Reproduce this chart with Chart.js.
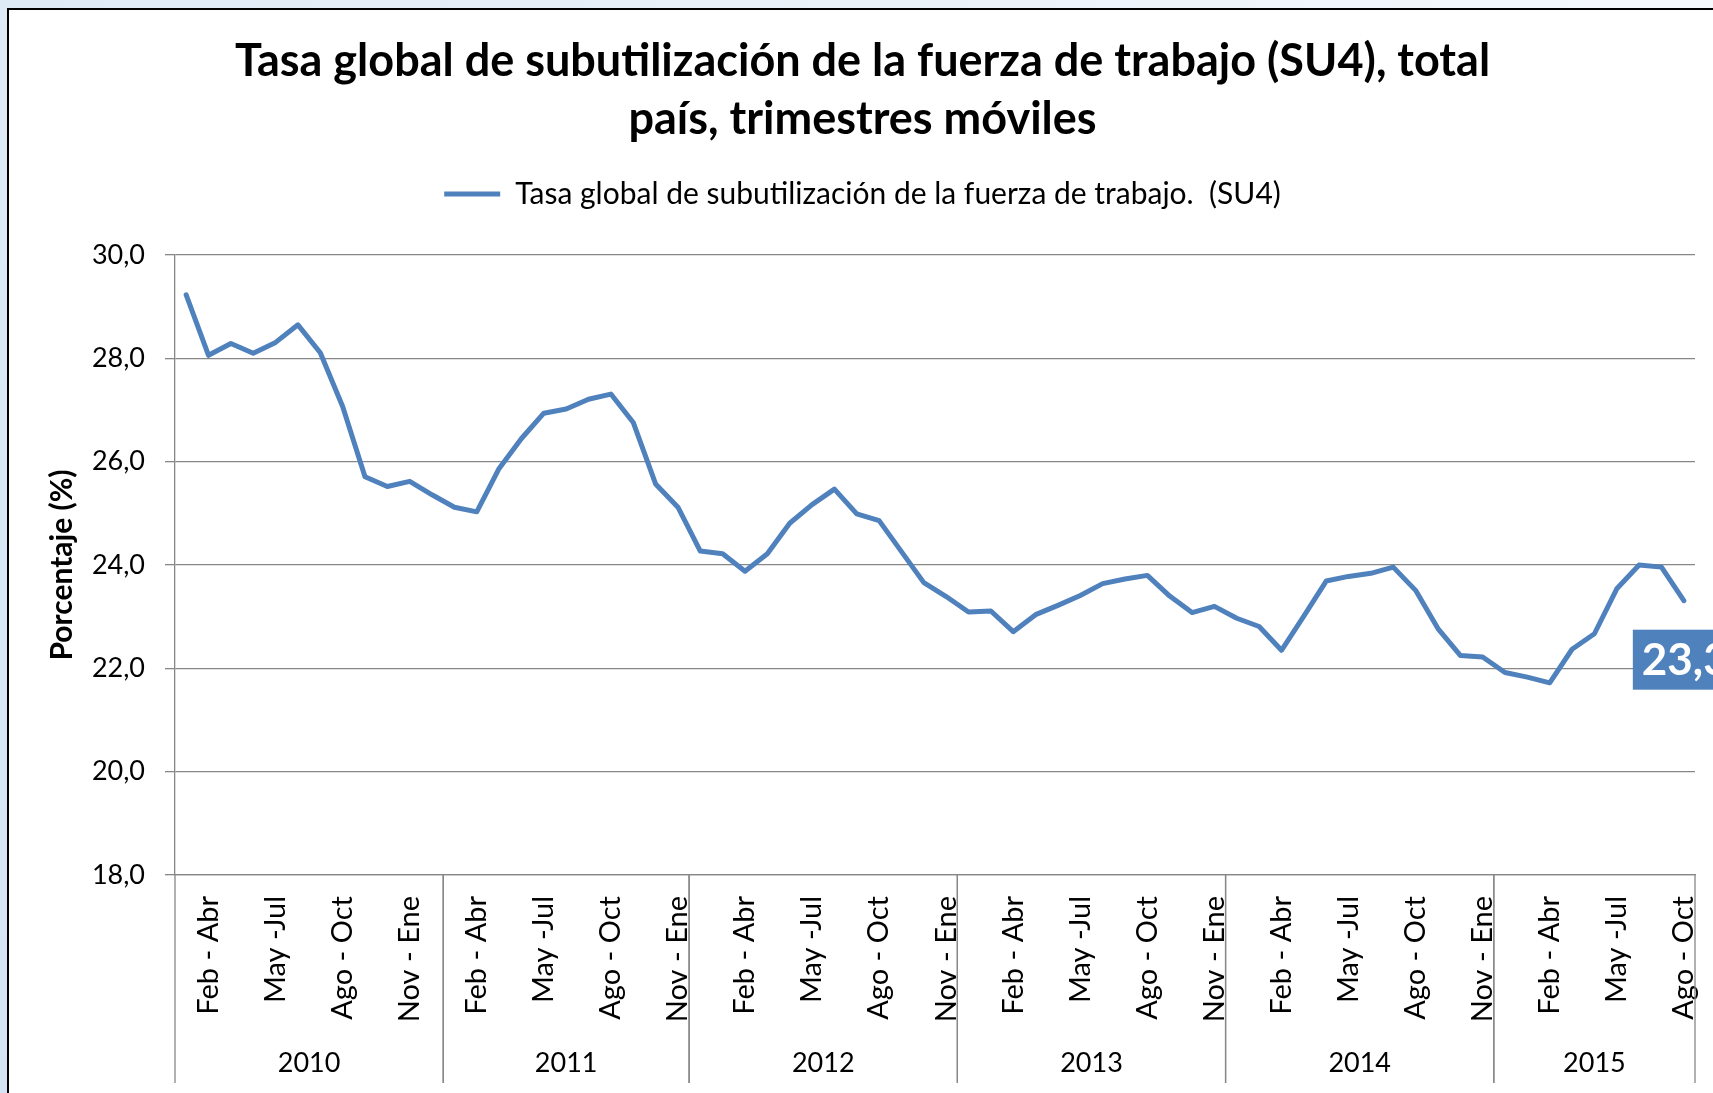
<!DOCTYPE html>
<html>
<head>
<meta charset="utf-8">
<script src="https://cdn.jsdelivr.net/npm/chart.js@4.4.1/dist/chart.umd.min.js"></script>
<style>
  html, body { margin: 0; padding: 0; background: #fff; }
  canvas { display: block; }
</style>
</head>
<body>
<canvas id="chart" width="1713" height="1093"></canvas>
<script>
// trimestres móviles, one entry per point
const labels = [
  // 2010
  'Ene - Mar', 'Feb - Abr', 'Mar - May', 'Abr - Jun', 'May -Jul', 'Jun - Ago',
  'Jul - Sep', 'Ago - Oct', 'Sep - Nov', 'Oct - Dic', 'Nov - Ene', 'Dic - Feb',
  // 2011
  'Ene - Mar', 'Feb - Abr', 'Mar - May', 'Abr - Jun', 'May -Jul', 'Jun - Ago',
  'Jul - Sep', 'Ago - Oct', 'Sep - Nov', 'Oct - Dic', 'Nov - Ene',
  // 2012
  'Dic - Feb', 'Ene - Mar', 'Feb - Abr', 'Mar - May', 'Abr - Jun', 'May -Jul',
  'Jun - Ago', 'Jul - Sep', 'Ago - Oct', 'Sep - Nov', 'Oct - Dic', 'Nov - Ene',
  // 2013
  'Dic - Feb', 'Ene - Mar', 'Feb - Abr', 'Mar - May', 'Abr - Jun', 'May -Jul',
  'Jun - Ago', 'Jul - Sep', 'Ago - Oct', 'Sep - Nov', 'Oct - Dic', 'Nov - Ene',
  // 2014
  'Dic - Feb', 'Ene - Mar', 'Feb - Abr', 'Mar - May', 'Abr - Jun', 'May -Jul',
  'Jun - Ago', 'Jul - Sep', 'Ago - Oct', 'Sep - Nov', 'Oct - Dic', 'Nov - Ene',
  // 2015
  'Dic - Feb', 'Ene - Mar', 'Feb - Abr', 'Mar - May', 'Abr - Jun', 'May -Jul',
  'Jun - Ago', 'Jul - Sep', 'Ago - Oct'
];

const su4 = [
  29.23, 28.06, 28.29, 28.10, 28.31, 28.65, 28.11, 27.07, 25.71, 25.52, 25.62, 25.36,
  25.12, 25.03, 25.87, 26.45, 26.94, 27.02, 27.21, 27.31, 26.76, 25.57, 25.12,
  24.27, 24.22, 23.88, 24.22, 24.81, 25.17, 25.47, 24.99, 24.86, 24.26, 23.66, 23.39,
  23.09, 23.11, 22.71, 23.04, 23.22, 23.41, 23.64, 23.73, 23.80, 23.40, 23.08, 23.20,
  22.97, 22.81, 22.35, 23.01, 23.69, 23.78, 23.84, 23.96, 23.51, 22.77, 22.25, 22.22,
  21.92, 21.83, 21.72, 22.37, 22.67, 23.54, 24.00, 23.96, 23.31
];

const years = ['2010', '2011', '2012', '2013', '2014', '2015'];
const yearSizes = [12, 11, 12, 12, 12, 9];

const yTicks = [18, 20, 22, 24, 26, 28, 30];

const blue = '#4F81BD';
const gridGray = '#878787';
const font = 'Lato';

const fmt = v => v.toFixed(1).replace('.', ',');

// pale blue sheet behind, white chart with black frame on left and top
const frame = {
  id: 'frame',
  beforeDraw(chart) {
    const ctx = chart.ctx;
    ctx.save();
    const g = ctx.createLinearGradient(chart.width, 0, 0, chart.height);
    g.addColorStop(0, '#f6fafd');
    g.addColorStop(1, '#d4e4f4');
    ctx.fillStyle = g;
    ctx.fillRect(0, 0, chart.width, chart.height);
    ctx.fillStyle = '#fff';
    ctx.fillRect(8, 9, chart.width, chart.height);
    ctx.strokeStyle = '#000';
    ctx.lineWidth = 2;
    ctx.strokeRect(8, 9, chart.width + 50, chart.height + 50);
    ctx.restore();
  }
};

// more room under the legend
const legendGap = {
  id: 'legendGap',
  beforeInit(chart) {
    const fit = chart.legend.fit;
    chart.legend.fit = function () {
      fit.call(this);
      this.height += 36;
    };
  }
};

// second level of the x axis: year groups with separators
const yearAxis = {
  id: 'yearAxis',
  afterDraw(chart) {
    const ctx = chart.ctx;
    const x = chart.scales.x;
    const area = chart.chartArea;
    const half = (x.getPixelForValue(1) - x.getPixelForValue(0)) / 2;
    const bottom = 1083;
    ctx.save();
    ctx.strokeStyle = gridGray;
    ctx.lineWidth = 1.3;
    ctx.fillStyle = '#000';
    ctx.font = '27px ' + font;
    ctx.textAlign = 'center';
    ctx.textBaseline = 'middle';
    let start = 0;
    years.forEach((y, i) => {
      const end = start + yearSizes[i] - 1;
      const x0 = x.getPixelForValue(start) - half;
      const x1 = x.getPixelForValue(end) + half;
      ctx.beginPath();
      ctx.moveTo(x0, area.bottom);
      ctx.lineTo(x0, bottom);
      ctx.moveTo(x1, area.bottom);
      ctx.lineTo(x1, bottom);
      ctx.stroke();
      ctx.fillText(y, (x0 + x1) / 2, 1063);
      start = end + 1;
    });
    ctx.restore();
  }
};

// label on the last value
const lastLabel = {
  id: 'lastLabel',
  afterDatasetsDraw(chart) {
    const meta = chart.getDatasetMeta(0);
    const i = su4.length - 1;
    const pt = meta.data[i];
    const ctx = chart.ctx;
    const h = 60;
    ctx.save();
    ctx.fillStyle = blue;
    ctx.fillRect(pt.x - 51, pt.y + 29, 120, h);
    ctx.fillStyle = '#fff';
    ctx.font = 'bold 44px ' + font;
    ctx.textAlign = 'left';
    ctx.textBaseline = 'middle';
    ctx.fillText(fmt(su4[i]), pt.x - 42, pt.y + 29 + h / 2 + 1);
    ctx.restore();
  }
};

new Chart(document.getElementById('chart'), {
  type: 'line',
  data: {
    labels: labels,
    datasets: [{
      label: 'Tasa global de subutilización de la fuerza de trabajo.  (SU4)',
      data: su4,
      borderColor: blue,
      backgroundColor: blue,
      borderWidth: 5,
      borderCapStyle: 'round',
      borderJoinStyle: 'round',
      pointRadius: 0,
      tension: 0,
      fill: false
    }]
  },
  options: {
    responsive: false,
    animation: false,
    layout: { padding: { left: 30, right: 18, top: 0, bottom: 0 } },
    plugins: {
      title: {
        display: true,
        text: ['Tasa global de subutilización de la fuerza de trabajo (SU4), total', 'país, trimestres móviles'],
        color: '#000',
        font: { family: font, size: 45, weight: 'bold', lineHeight: 1.29 },
        padding: { top: 32, bottom: 17 }
      },
      legend: {
        display: true,
        labels: {
          color: '#000',
          font: { family: font, size: 30 },
          boxWidth: 56,
          boxHeight: 5,
          padding: 14,
          generateLabels: chart => [{
            text: chart.data.datasets[0].label,
            fillStyle: blue,
            strokeStyle: blue,
            lineWidth: 0,
            datasetIndex: 0
          }]
        }
      },
      tooltip: { enabled: false }
    },
    scales: {
      x: {
        offset: true,
        grid: { display: false, drawTicks: false },
        border: { display: true, color: gridGray, width: 1.3 },
        ticks: {
          autoSkip: false,
          maxRotation: 90,
          minRotation: 90,
          padding: 21,
          color: '#000',
          font: { family: font, size: 29 },
          callback: (v, i) => (i % 3 === 1 ? labels[i] : '')
        },
        afterFit: s => {
          s.height = 218;
          s.paddingLeft = 0;
          s.paddingRight = 0;
        }
      },
      y: {
        min: 18,
        max: 30,
        afterBuildTicks: s => { s.ticks = yTicks.map(v => ({ value: v })); },
        grid: { color: gridGray, lineWidth: 1.3, tickLength: 10 },
        border: { display: true, color: gridGray, width: 1.3 },
        ticks: {
          padding: 20,
          color: '#000',
          font: { family: font, size: 27 },
          callback: v => fmt(v)
        },
        title: {
          display: true,
          text: 'Porcentaje (%)',
          color: '#000',
          font: { family: font, size: 30, weight: 'bold' },
          padding: { top: 14, bottom: 0 }
        },
        afterFit: s => { s.width = 145; }
      }
    }
  },
  plugins: [frame, legendGap, yearAxis, lastLabel]
});
</script>
</body>
</html>
